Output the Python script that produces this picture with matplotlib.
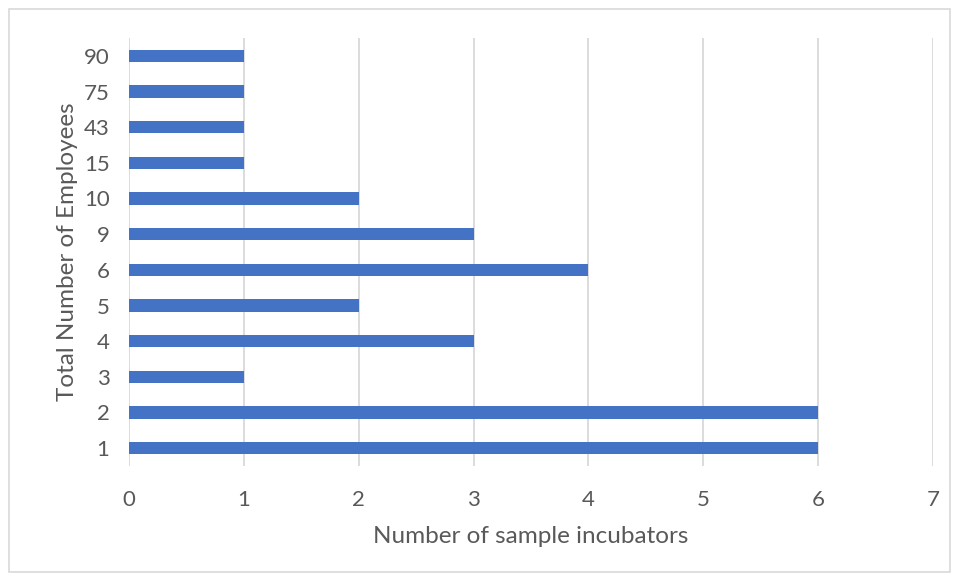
import matplotlib.pyplot as plt
from matplotlib.patches import Rectangle

# ========================
# Data
# ========================
employees = ["1", "2", "3", "4", "5", "6", "9", "10", "15", "43", "75", "90"]
incubators = [6, 6, 1, 3, 2, 4, 3, 2, 1, 1, 1, 1]

bar_color = "#4472C4"
text_color = "#595959"
grid_color = "#D9D9D9"

plt.rcParams["font.family"] = ["Lato", "DejaVu Sans"]

fig = plt.figure(figsize=(9.58, 5.8), dpi=100)
ax = fig.add_axes([129 / 958, 1 - 466 / 580, 804 / 958, 428 / 580])

ypos = list(range(len(employees)))
ax.barh(ypos, incubators, height=0.35, color=bar_color, zorder=3)

ax.set_xlim(0, 7)
ax.set_ylim(-0.5, len(employees) - 0.5)
ax.set_xticks(range(0, 8))
ax.set_yticks(ypos)
ax.set_yticklabels(employees)

ax.grid(axis="x", color=grid_color, linewidth=1.3, zorder=0)
for s in ax.spines.values():
    s.set_visible(False)
ax.tick_params(axis="both", length=0, labelsize=16, colors=text_color)
ax.tick_params(axis="x", pad=17)
ax.tick_params(axis="y", pad=14)

ax.set_xlabel("Number of sample incubators", fontsize=17.5, color=text_color, labelpad=12)
ax.set_ylabel("Total Number of Employees", fontsize=17.5, color=text_color, labelpad=4)

# chart-area border
fig.patches.append(Rectangle((8.5 / 958, 1 - 572 / 580), 941 / 958, 563 / 580,
                             transform=fig.transFigure, fill=False,
                             edgecolor="#D9D9D9", linewidth=1.2))

fig.savefig("out.png", dpi=100)
